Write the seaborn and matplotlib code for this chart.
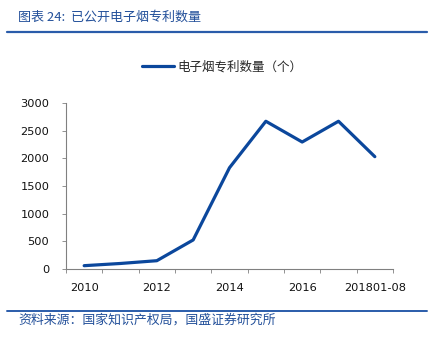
import matplotlib
matplotlib.use("Agg")
import matplotlib.pyplot as plt
import seaborn as sns
import pandas as pd
import numpy as np
from matplotlib.lines import Line2D

# Published e-cigarette patents per year
periods = ["2010", "2011", "2012", "2013", "2014", "2015", "2016", "2017", "201801-08"]
patents = [60, 100, 150, 525, 1830, 2670, 2295, 2670, 2030]
shown_labels = ["2010", "2012", "2014", "2016", "201801-08"]
yticks = [0, 500, 1000, 1500, 2000, 2500, 3000]

series_name = "电子烟专利数量（个）"
title = "图表 24:  已公开电子烟专利数量"
source = "资料来源：国家知识产权局，国盛证券研究所"

sns.set_theme(style="white")
plt.rcParams["font.family"] = ["Noto Sans CJK SC", "DejaVu Sans"]

line_blue = "#0B479C"
head_blue = "#2A5CAA"
text_blue = "#23509A"

df = pd.DataFrame({"pos": np.arange(len(periods)), "value": patents})

fig = plt.figure(figsize=(4.35, 3.38), dpi=100)
ax = fig.add_axes([66 / 435, 1 - 269 / 338, 327 / 435, 166 / 338])

sns.lineplot(data=df, x="pos", y="value", ax=ax, color=line_blue, linewidth=2.3)

ax.set_xlim(-0.5, len(periods) - 0.5)
ax.set_ylim(0, 3000)
ax.set_xlabel("")
ax.set_ylabel("")

# category boundaries carry the tick marks, labels sit on every other category
ax.set_xticks(np.arange(-0.5, len(periods)), minor=True)
ax.set_xticks([periods.index(l) for l in shown_labels])
ax.set_xticklabels(shown_labels, fontfamily="DejaVu Sans", fontsize=8.2, color="#111111")
ax.tick_params(axis="x", which="major", length=0, pad=10)
ax.tick_params(axis="x", which="minor", length=3, width=0.6, color="#808080", bottom=True)

ax.set_yticks(yticks)
ax.set_yticklabels([str(v) for v in yticks], fontfamily="DejaVu Sans", fontsize=8.2, color="#111111")
ax.tick_params(axis="y", which="major", length=3, width=0.6, color="#808080", left=True, pad=9)

for side in ["top", "right"]:
    ax.spines[side].set_visible(False)
for side in ["left", "bottom"]:
    ax.spines[side].set_color("#808080")
    ax.spines[side].set_linewidth(0.8)
ax.grid(False)

# legend
handle = Line2D([], [], color=line_blue, linewidth=2.3)
fig.legend([handle], [series_name], loc="center", bbox_to_anchor=(222 / 435, 1 - 67 / 338),
           frameon=False, handlelength=2.6, handletextpad=0.25,
           borderaxespad=0, prop={"family": ["Noto Sans CJK SC", "DejaVu Sans"], "size": 9.0})

# header and footer
fig.text(18 / 435, 1 - 17.5 / 338, title, fontsize=9.4, color=text_blue, style="italic",
         ha="left", va="center")
fig.add_artist(Line2D([7 / 435, 427 / 435], [1 - 31.5 / 338] * 2, color=head_blue, linewidth=1.6))
fig.add_artist(Line2D([7 / 435, 427 / 435], [1 - 310.5 / 338] * 2, color=head_blue, linewidth=1.4))
fig.text(18 / 435, 1 - 320.5 / 338, source, fontsize=9.3, color=text_blue, style="italic",
         ha="left", va="center")

fig.savefig("out.png", dpi=100)
